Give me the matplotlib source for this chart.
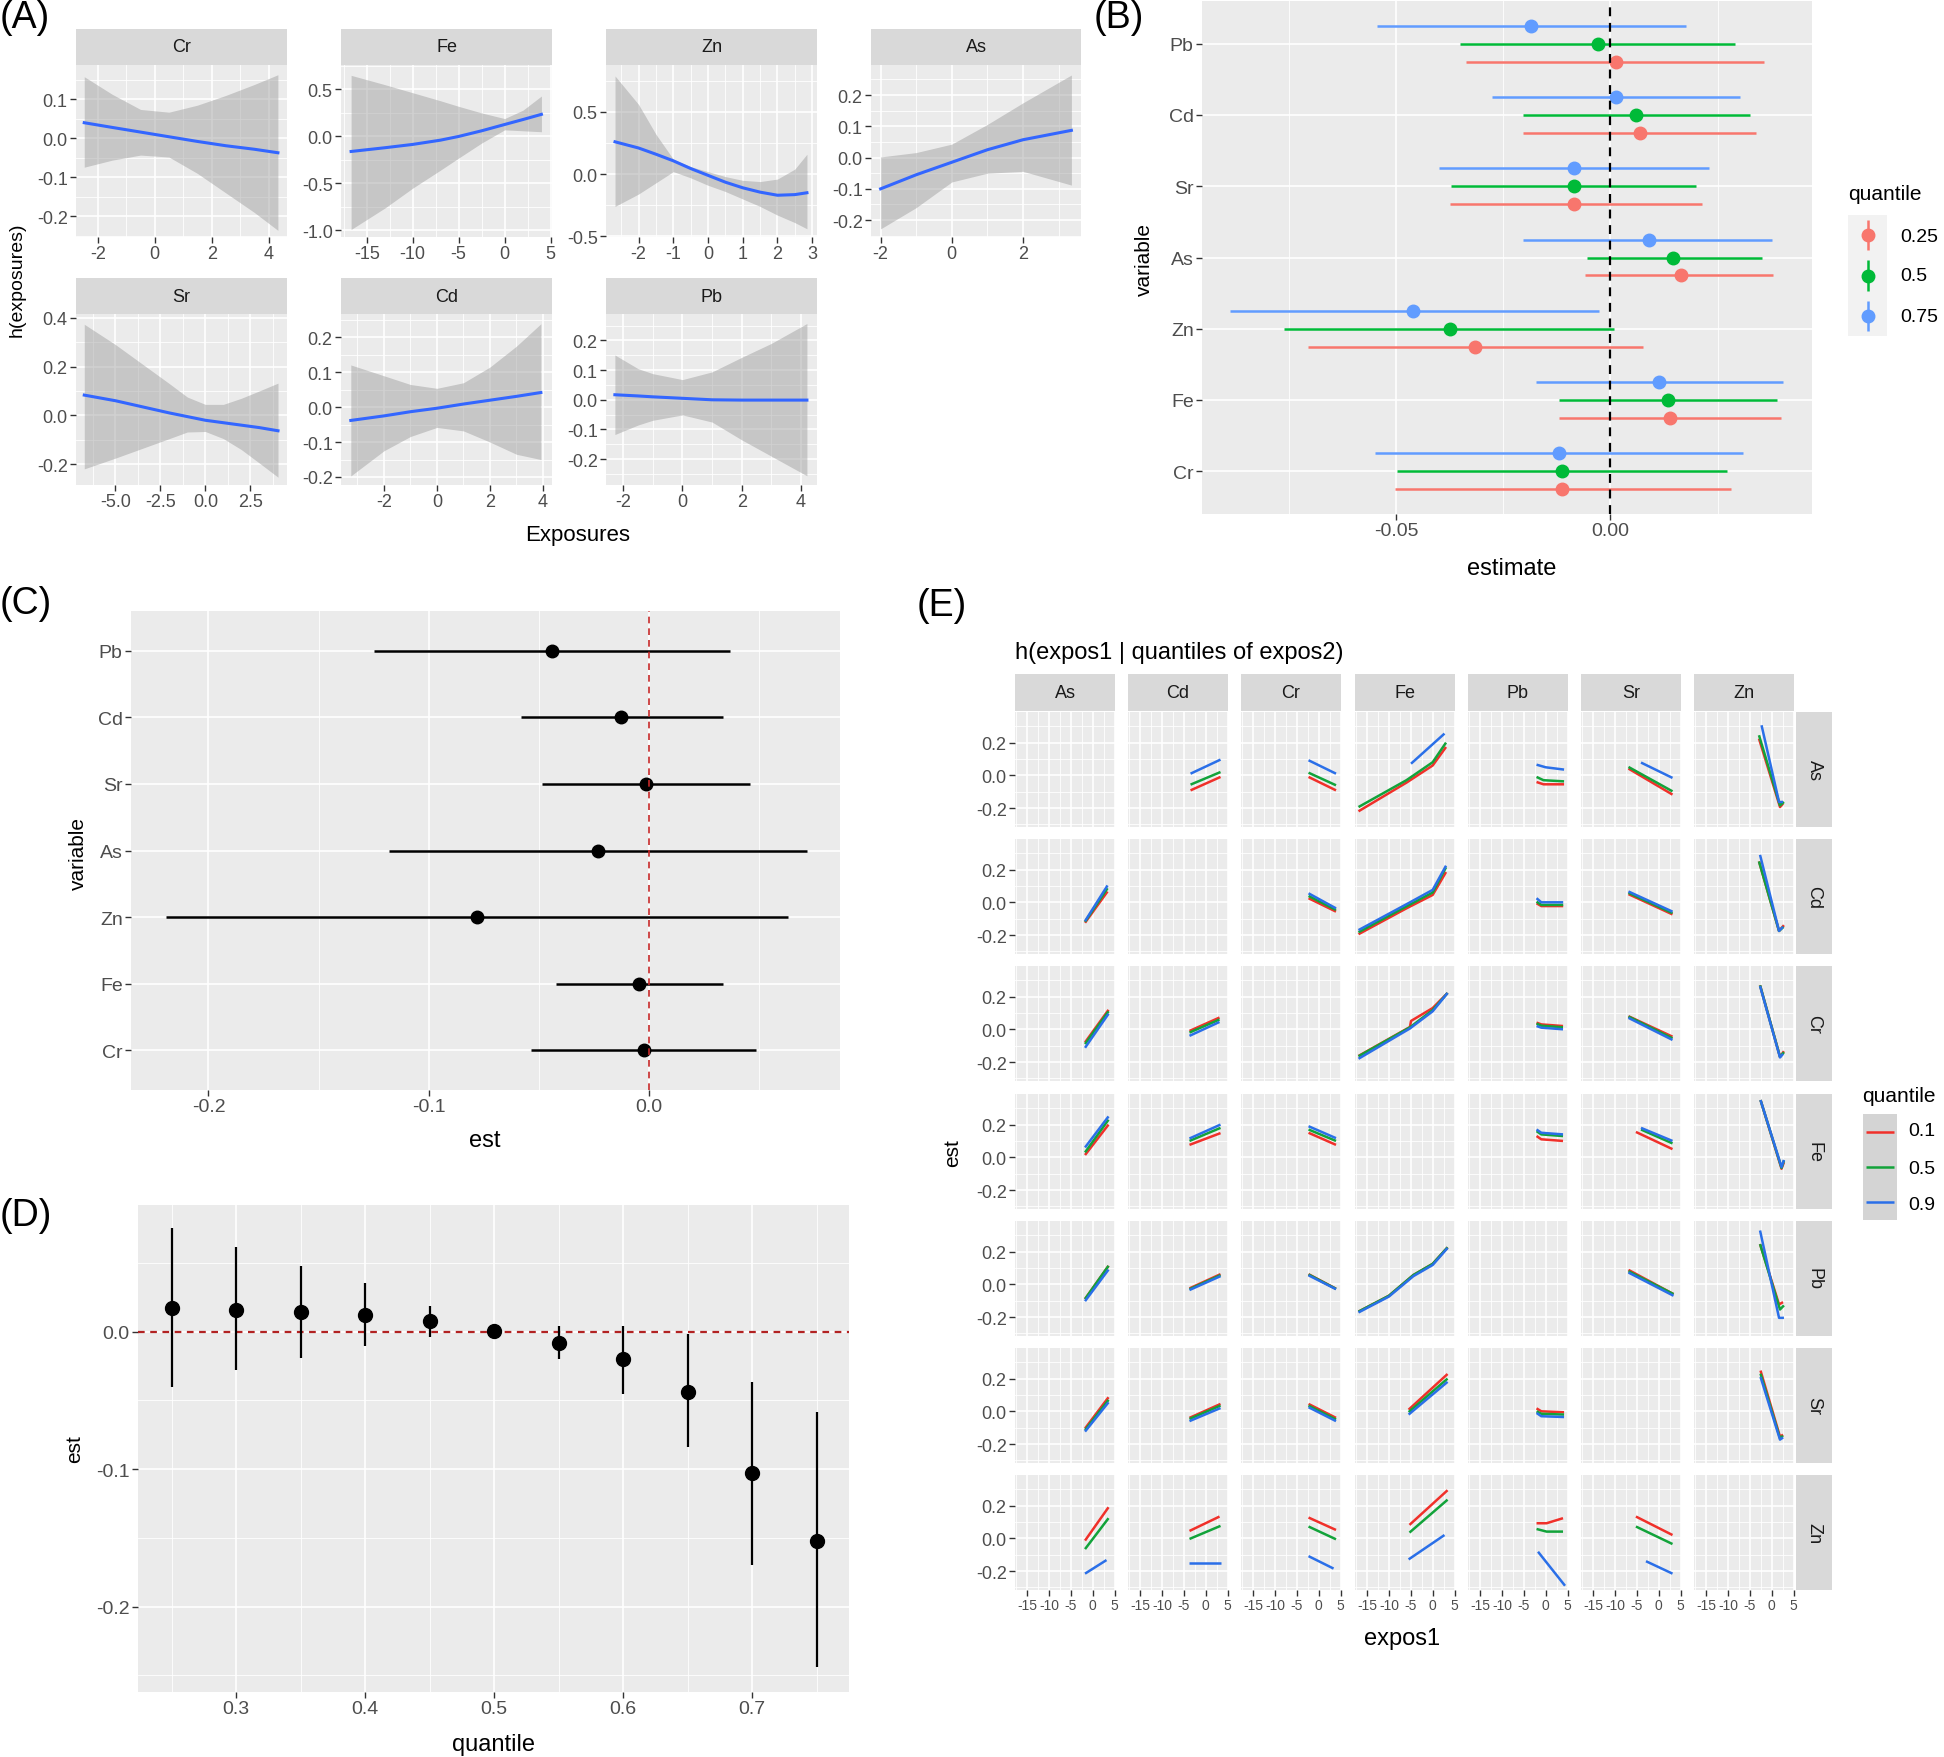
import matplotlib
matplotlib.use('Agg')
import matplotlib.pyplot as plt
import numpy as np

NARROW = ['Liberation Sans Narrow', 'Liberation Sans', 'DejaVu Sans']
REG = ['Liberation Sans', 'DejaVu Sans']
plt.rcParams['font.family'] = NARROW
plt.rcParams['axes.unicode_minus'] = False

# ---------------------------------------------------------------- data (A)
A_Cr = dict(x=[-2.48, -1.5, -0.5, 0.5, 1.5, 2.5, 3.5, 4.33],
            fit=[0.040, 0.028, 0.016, 0.004, -0.008, -0.019, -0.028, -0.037],
            lo=[-0.074, -0.056, -0.043, -0.048, -0.09, -0.14, -0.19, -0.236],
            hi=[0.158, 0.113, 0.074, 0.067, 0.085, 0.11, 0.138, 0.163])
A_Fe = dict(x=[-16.7, -13, -10, -7, -5, -2.5, 0, 2, 4.0],
            fit=[-0.16, -0.12, -0.085, -0.04, 0.0, 0.06, 0.127, 0.18, 0.235],
            lo=[-0.99, -0.76, -0.55, -0.36, -0.23, -0.07, 0.07, 0.06, 0.05],
            hi=[0.65, 0.55, 0.465, 0.38, 0.32, 0.25, 0.19, 0.28, 0.43])
A_Zn = dict(x=[-2.68, -2, -1.5, -1, -0.5, 0, 0.5, 1, 1.5, 2, 2.5, 2.85],
            fit=[0.26, 0.21, 0.16, 0.107, 0.045, -0.01, -0.065, -0.11, -0.145, -0.17, -0.165, -0.15],
            lo=[-0.26, -0.16, -0.07, 0.02, -0.03, -0.09, -0.14, -0.2, -0.26, -0.33, -0.39, -0.44],
            hi=[0.79, 0.56, 0.32, 0.12, 0.06, 0.02, -0.02, -0.05, -0.06, -0.04, 0.04, 0.16])
A_As = dict(x=[-2.0, -1, 0, 1, 2, 3.36],
            fit=[-0.1, -0.055, -0.015, 0.025, 0.057, 0.087],
            lo=[-0.228, -0.16, -0.078, -0.05, -0.044, -0.088],
            hi=[0.002, 0.016, 0.043, 0.106, 0.175, 0.264])
A_Sr = dict(x=[-6.73, -5, -3.5, -2, -1, 0, 1, 2, 3, 4.04],
            fit=[0.083, 0.06, 0.035, 0.01, -0.005, -0.02, -0.03, -0.04, -0.05, -0.063],
            lo=[-0.219, -0.175, -0.135, -0.095, -0.068, -0.066, -0.095, -0.14, -0.195, -0.253],
            hi=[0.373, 0.29, 0.21, 0.13, 0.075, 0.045, 0.045, 0.07, 0.1, 0.132])
A_Cd = dict(x=[-3.25, -2, -1, 0, 1, 2, 3, 3.92],
            fit=[-0.038, -0.025, -0.013, -0.003, 0.009, 0.02, 0.031, 0.042],
            lo=[-0.197, -0.125, -0.084, -0.058, -0.068, -0.1, -0.135, -0.15],
            hi=[0.121, 0.09, 0.065, 0.054, 0.07, 0.115, 0.175, 0.239])
A_Pb = dict(x=[-2.28, -1.5, -1, 0, 1, 2, 3, 4.2],
            fit=[0.017, 0.013, 0.01, 0.005, 0.0, -0.001, -0.001, -0.001],
            lo=[-0.117, -0.085, -0.069, -0.051, -0.075, -0.135, -0.19, -0.256],
            hi=[0.151, 0.105, 0.088, 0.068, 0.094, 0.143, 0.19, 0.257])

# ---------------------------------------------------------------- data (B, C)
variables = ['Pb', 'Cd', 'Sr', 'As', 'Zn', 'Fe', 'Cr']   # top -> bottom
b_quantiles = ['0.25', '0.5', '0.75']
b_est_25 = [0.0012, 0.007, -0.0084, 0.0164, -0.0316, 0.0138, -0.0112]
b_lo_25 = [-0.0336, -0.0204, -0.0375, -0.0059, -0.0706, -0.012, -0.0503]
b_hi_25 = [0.0357, 0.034, 0.0213, 0.038, 0.0077, 0.0398, 0.0282]
b_est_50 = [-0.003, 0.006, -0.0084, 0.0147, -0.0375, 0.0134, -0.0112]
b_lo_50 = [-0.035, -0.0204, -0.0371, -0.0054, -0.0762, -0.012, -0.0497]
b_hi_50 = [0.029, 0.0325, 0.02, 0.0353, 0.0009, 0.0389, 0.0271]
b_est_75 = [-0.0184, 0.0012, -0.0084, 0.0089, -0.0459, 0.0113, -0.012]
b_lo_75 = [-0.0545, -0.0277, -0.04, -0.0204, -0.0887, -0.0174, -0.0548]
b_hi_75 = [0.0177, 0.0303, 0.0231, 0.0376, -0.0027, 0.0402, 0.0308]

c_est = [-0.044, -0.0128, -0.0013, -0.0229, -0.0779, -0.0044, -0.0023]
c_lo = [-0.1247, -0.0578, -0.0484, -0.1182, -0.2193, -0.0422, -0.0536]
c_hi = [0.0367, 0.0336, 0.0458, 0.0719, 0.0635, 0.0336, 0.0487]

# ---------------------------------------------------------------- data (D)
d_quantile = [0.25, 0.30, 0.35, 0.40, 0.45, 0.50, 0.55, 0.60, 0.65, 0.70, 0.75]
d_est = [0.0174, 0.016, 0.0139, 0.0123, 0.0078, 0.0005, -0.0083, -0.0203, -0.0436, -0.1029, -0.1519]
d_lo = [-0.0401, -0.0281, -0.0195, -0.0107, -0.0043, -0.001, -0.0203, -0.0457, -0.0837, -0.17, -0.2441]
d_hi = [0.0754, 0.0612, 0.0479, 0.0353, 0.0184, 0.0019, 0.0037, 0.0037, -0.0021, -0.0364, -0.0583]

# ---------------------------------------------------------------- data (E)
# each entry: ((x, y) for q=0.1, (x, y) for q=0.5, (x, y) for q=0.9)
e_cols = ['As', 'Cd', 'Cr', 'Fe', 'Pb', 'Sr', 'Zn']
e_rows = ['As', 'Cd', 'Cr', 'Fe', 'Pb', 'Sr', 'Zn']
e_quant = ['0.1', '0.5', '0.9']
E_As = {
    'Cd': (([-3.46, 3.39], [-0.092, -0.01]), ([-3.46, 3.39], [-0.057, 0.02]), ([-3.46, 3.39], [0.010, 0.096])),
    'Cr': (([-2.32, 3.96], [-0.01, -0.092]), ([-2.32, 3.96], [0.016, -0.061]), ([-2.32, 3.96], [0.092, 0.01])),
    'Fe': (([-16.95, -6, 0, 3.05], [-0.22, -0.045, 0.06, 0.173]), ([-16.95, -6, 0, 3.05], [-0.194, -0.03, 0.08, 0.2]),
           ([-4.95, 2.7], [0.071, 0.255])),
    'Pb': (([-2.09, -0.5, 4.2], [-0.041, -0.055, -0.055]), ([-2.09, -0.5, 4.2], [-0.01, -0.03, -0.037]),
           ([-2.09, 0, 4.2], [0.065, 0.049, 0.035])),
    'Sr': (([-6.9, 3.16], [0.041, -0.118]), ([-6.9, 3.16], [0.051, -0.098]), ([-4.04, 3.16], [0.078, -0.016])),
    'Zn': (([-2.9, 1.9, 2.6], [0.224, -0.194, -0.173]), ([-2.9, 1.9, 2.8], [0.245, -0.184, -0.163]),
           ([-2.32, 1.68, 2.6], [0.306, -0.163, -0.163])),
}
E_Cd = {
    'As': (([-1.75, 3.39], [-0.125, 0.066]), ([-1.75, 3.39], [-0.119, 0.086]), ([-1.75, 3.39], [-0.115, 0.103])),
    'Cr': (([-2.32, 3.96], [0.025, -0.057]), ([-2.32, 3.96], [0.039, -0.047]), ([-2.32, 3.96], [0.055, -0.037])),
    'Fe': (([-16.95, -6, 0, 3.05], [-0.195, -0.037, 0.045, 0.185]), ([-16.95, -6, 0, 3.05], [-0.183, -0.025, 0.06, 0.214]),
           ([-16.95, -6, 0, 3.05], [-0.17, -0.012, 0.076, 0.224])),
    'Pb': (([-2.09, -1, 4.0], [-0.006, -0.023, -0.023]), ([-2.09, -1, 4.0], [0.004, -0.016, -0.016]),
           ([-2.09, -1, 4.0], [0.025, 0.0, 0.0])),
    'Sr': (([-6.9, 3.16], [0.05, -0.074]), ([-6.9, 3.16], [0.058, -0.066]), ([-6.9, 3.16], [0.066, -0.057])),
    'Zn': (([-2.9, 1.68, 2.8], [0.25, -0.175, -0.14]), ([-2.9, 1.68, 2.7], [0.25, -0.175, -0.15]),
           ([-2.66, 1.68, 2.6], [0.29, -0.175, -0.15])),
}
E_Cr = {
    'As': (([-1.75, 3.62], [-0.08, 0.119]), ([-1.75, 3.62], [-0.09, 0.11]), ([-1.75, 3.62], [-0.113, 0.095])),
    'Cd': (([-3.7, 3.16], [-0.01, 0.072]), ([-3.7, 3.16], [-0.02, 0.06]), ([-3.7, 3.16], [-0.04, 0.045])),
    'Fe': (([-16.95, -5.2, -4.95, 0, 3.4], [-0.163, 0.014, 0.051, 0.13, 0.222]),
           ([-16.95, -5.2, 0, 3.4], [-0.165, 0.012, 0.118, 0.222]),
           ([-16.95, -5.2, 0, 3.4], [-0.18, 0.005, 0.11, 0.222])),
    'Pb': (([-2.09, -1, 3.96], [0.041, 0.03, 0.02]), ([-2.09, -1, 3.96], [0.035, 0.022, 0.012]),
           ([-2.09, -1, 3.96], [0.02, 0.01, 0.0])),
    'Sr': (([-6.9, 3.16], [0.08, -0.045]), ([-6.9, 3.16], [0.078, -0.055]), ([-6.9, 3.16], [0.07, -0.065])),
    'Zn': (([-2.66, 1.9, 2.8], [0.269, -0.168, -0.134]), ([-2.66, 1.9, 2.8], [0.269, -0.168, -0.14]),
           ([-2.66, 1.9, 2.6], [0.265, -0.172, -0.15])),
}
E_Fe = {
    'As': (([-1.75, 3.62], [0.014, 0.2]), ([-1.75, 3.62], [0.03, 0.23]), ([-1.75, 3.62], [0.06, 0.25])),
    'Cd': (([-3.7, 3.39], [0.076, 0.148]), ([-3.7, 3.39], [0.1, 0.18]), ([-3.7, 3.39], [0.115, 0.2])),
    'Cr': (([-2.32, 3.96], [0.15, 0.076]), ([-2.32, 3.96], [0.17, 0.1]), ([-2.32, 3.96], [0.19, 0.117])),
    'Pb': (([-2.09, -1, 3.96], [0.13, 0.11, 0.1]), ([-2.09, -1, 3.96], [0.16, 0.14, 0.13]),
           ([-2.09, -1, 3.96], [0.17, 0.15, 0.14])),
    'Sr': (([-5.2, 3.16], [0.155, 0.05]), ([-4.04, 3.16], [0.17, 0.085]), ([-4.04, 3.16], [0.18, 0.1])),
    'Zn': (([-2.55, 2.25, 2.8], [0.35, -0.07, -0.03]), ([-2.55, 2.25, 2.8], [0.35, -0.065, -0.02]),
           ([-2.55, 2.25, 2.8], [0.35, -0.06, -0.016])),
}
E_Pb = {
    'As': (([-1.75, 3.62], [-0.09, 0.113]), ([-1.75, 3.62], [-0.09, 0.113]), ([-1.75, 3.62], [-0.103, 0.09])),
    'Cd': (([-3.7, 3.39], [-0.025, 0.062]), ([-3.7, 3.39], [-0.03, 0.056]), ([-3.7, 3.39], [-0.035, 0.05])),
    'Cr': (([-2.32, 3.96], [0.062, -0.027]), ([-2.32, 3.96], [0.06, -0.028]), ([-2.32, 3.96], [0.055, -0.03])),
    'Fe': (([-16.95, -10, -4.4, 0, 3.4], [-0.167, -0.07, 0.057, 0.125, 0.226]),
           ([-16.95, -10, -4.4, 0, 3.4], [-0.167, -0.07, 0.057, 0.125, 0.226]),
           ([-16.95, -10, -4.4, 0, 3.4], [-0.172, -0.075, 0.05, 0.118, 0.222])),
    'Sr': (([-6.9, 3.39], [0.088, -0.06]), ([-6.9, 3.39], [0.08, -0.06]), ([-6.9, 3.39], [0.072, -0.07])),
    'Zn': (([-2.66, 1.68, 2.6], [0.246, -0.123, -0.109]), ([-2.66, 1.9, 2.8], [0.246, -0.154, -0.129]),
           ([-2.66, 1.68, 2.8], [0.329, -0.205, -0.205])),
}
E_Sr = {
    'As': (([-1.75, 3.62], [-0.105, 0.086]), ([-1.75, 3.62], [-0.115, 0.07]), ([-1.75, 3.62], [-0.124, 0.055])),
    'Cd': (([-3.7, 3.39], [-0.04, 0.045]), ([-3.7, 3.39], [-0.047, 0.035]), ([-3.7, 3.39], [-0.06, 0.02])),
    'Cr': (([-2.32, 3.96], [0.045, -0.04]), ([-2.32, 3.96], [0.035, -0.05]), ([-2.32, 3.96], [0.025, -0.06])),
    'Fe': (([-5.5, 3.4], [0.01, 0.228]), ([-5.5, 3.4], [-0.005, 0.2]), ([-5.5, 3.4], [-0.02, 0.18])),
    'Pb': (([-2.09, -1, 4.2], [0.018, 0.0, -0.006]), ([-2.09, -1, 4.2], [0.0, -0.015, -0.02]),
           ([-2.09, -1, 4.2], [-0.01, -0.03, -0.035])),
    'Zn': (([-2.55, 1.9, 2.6], [0.249, -0.155, -0.143]), ([-2.55, 1.9, 2.6], [0.23, -0.165, -0.15]),
           ([-2.55, 1.9, 2.6], [0.21, -0.173, -0.16])),
}
E_Zn = {
    'As': (([-1.75, 3.62], [-0.014, 0.19]), ([-1.75, 3.62], [-0.066, 0.123]), ([-1.75, 3.16], [-0.216, -0.133])),
    'Cd': (([-3.7, 3.16], [0.045, 0.133]), ([-3.7, 3.39], [-0.004, 0.076]), ([-3.7, 3.39], [-0.154, -0.154])),
    'Cr': (([-2.32, 3.96], [0.127, 0.051]), ([-2.32, 3.96], [0.072, -0.006]), ([-2.32, 3.4], [-0.109, -0.185])),
    'Fe': (([-5.3, 3.4], [0.082, 0.294]), ([-5.3, 3.4], [0.035, 0.236]), ([-5.5, 2.7], [-0.129, 0.02])),
    'Pb': (([-2.09, 0.2, 3.96], [0.092, 0.092, 0.123]), ([-2.09, 0.2, 3.96], [0.057, 0.041, 0.041]),
           ([-1.75, 4.42], [-0.082, -0.29])),
    'Sr': (([-5.2, 3.16], [0.133, 0.02]), ([-5.2, 3.16], [0.072, -0.035]), ([-2.9, 3.16], [-0.14, -0.216])),
}
E_data = {'As': E_As, 'Cd': E_Cd, 'Cr': E_Cr, 'Fe': E_Fe, 'Pb': E_Pb, 'Sr': E_Sr, 'Zn': E_Zn}

# ---------------------------------------------------------------- helpers
W, H = 1944, 1758
fig = plt.figure(figsize=(W / 100, H / 100), dpi=100)
BG = '#EBEBEB'
STRIP = '#D9D9D9'


def add_ax(x0, y0, x1, y1):
    return fig.add_axes([x0 / W, 1 - y1 / H, (x1 - x0) / W, (y1 - y0) / H])


def ftext(x, y, s, size, family=None, rot=0, ha='center', va='center', color='black'):
    fig.text(x / W, 1 - y / H, s, fontsize=size, family=family or NARROW,
             rotation=rot, ha=ha, va=va, color=color)


def minor_between(maj):
    m = np.asarray(maj, float)
    step = m[1] - m[0]
    return np.arange(m[0] - step / 2, m[-1] + step, step)


def gg(ax, xlim, ylim, xmaj, ymaj, xlab=None, ylab=None, xminor=True, yminor=True, size=13,
       show_x=True, show_y=True, xsize=None):
    ax.set_facecolor(BG)
    for s in ax.spines.values():
        s.set_visible(False)
    ax.set_xticks(xmaj)
    ax.set_yticks(ymaj)
    if xminor:
        ax.set_xticks(minor_between(xmaj), minor=True)
    if yminor:
        ax.set_yticks(minor_between(ymaj), minor=True)
    ax.set_xlim(xlim)
    ax.set_ylim(ylim)
    ax.grid(True, which='major', color='white', lw=1.2)
    ax.grid(True, which='minor', color='white', lw=0.6)
    ax.tick_params(which='minor', length=0)
    ax.tick_params(which='major', length=4, width=1.0, color='#333333',
                   labelcolor='#4D4D4D', labelsize=size, pad=2)
    if xsize is not None:
        ax.tick_params(axis='x', labelsize=xsize)
    if show_x:
        ax.set_xticklabels(xlab if xlab is not None else [str(v) for v in xmaj])
    else:
        ax.tick_params(axis='x', which='major', length=0, labelbottom=False)
    if show_y:
        ax.set_yticklabels(ylab if ylab is not None else [str(v) for v in ymaj])
    else:
        ax.tick_params(axis='y', which='major', length=0, labelleft=False)
    ax.set_axisbelow(True)


def strip(x0, y0, x1, y1, label, size=13, rot=0):
    s = add_ax(x0, y0, x1, y1)
    s.set_facecolor(STRIP)
    for sp in s.spines.values():
        sp.set_visible(False)
    s.set_xticks([])
    s.set_yticks([])
    s.text(0.5, 0.5, label, transform=s.transAxes, ha='center', va='center',
           fontsize=size, rotation=rot, color='#1A1A1A')


# ---------------------------------------------------------------- panel A
a_specs = [
    ('Cr', A_Cr, (-2.77, 4.65), (-0.253, 0.188), [-2, 0, 2, 4], ['-2', '0', '2', '4'],
     [-0.2, -0.1, 0.0, 0.1], ['-0.2', '-0.1', '0.0', '0.1'], 0, 0),
    ('Fe', A_Fe, (-17.8, 5.15), (-1.07, 0.76), [-15, -10, -5, 0, 5], ['-15', '-10', '-5', '0', '5'],
     [-1.0, -0.5, 0.0, 0.5], ['-1.0', '-0.5', '0.0', '0.5'], 0, 1),
    ('Zn', A_Zn, (-2.94, 3.14), (-0.506, 0.878), [-2, -1, 0, 1, 2, 3], ['-2', '-1', '0', '1', '2', '3'],
     [-0.5, 0.0, 0.5], ['-0.5', '0.0', '0.5'], 0, 2),
    ('As', A_As, (-2.27, 3.63), (-0.254, 0.296), [-2, 0, 2], ['-2', '0', '2'],
     [-0.2, -0.1, 0.0, 0.1, 0.2], ['-0.2', '-0.1', '0.0', '0.1', '0.2'], 0, 3),
    ('Sr', A_Sr, (-7.19, 4.54), (-0.285, 0.415), [-5.0, -2.5, 0.0, 2.5], ['-5.0', '-2.5', '0.0', '2.5'],
     [-0.2, 0.0, 0.2, 0.4], ['-0.2', '0.0', '0.2', '0.4'], 1, 0),
    ('Cd', A_Cd, (-3.62, 4.34), (-0.223, 0.267), [-2, 0, 2, 4], ['-2', '0', '2', '4'],
     [-0.2, -0.1, 0.0, 0.1, 0.2], ['-0.2', '-0.1', '0.0', '0.1', '0.2'], 1, 1),
    ('Pb', A_Pb, (-2.58, 4.54), (-0.287, 0.289), [-2, 0, 2, 4], ['-2', '0', '2', '4'],
     [-0.2, -0.1, 0.0, 0.1, 0.2], ['-0.2', '-0.1', '0.0', '0.1', '0.2'], 1, 2),
]
a_colx = [(76, 287), (341, 552), (606, 817), (871, 1081)]
a_rowy = [((30, 66), (66, 238)), ((279, 315), (315, 486))]
for name, d, xl, yl, xt, xtl, yt, ytl, r, c in a_specs:
    (sy0, sy1), (py0, py1) = a_rowy[r]
    x0, x1 = a_colx[c]
    ax = add_ax(x0, py0, x1, py1)
    gg(ax, xl, yl, xt, yt, xtl, ytl, size=13)
    ax.fill_between(d['x'], d['lo'], d['hi'], color='#999999', alpha=0.45, lw=0, zorder=2)
    ax.plot(d['x'], d['fit'], color='#3366FF', lw=2.2, zorder=3)
    strip(x0, sy0, x1, sy1, name, size=13)

ftext(0, 0, '(A)', 27, ha='left', va='top')
ftext(17, 280, 'h(exposures)', 14, family=REG, rot=90)
ftext(578, 535, 'Exposures', 16)

# ---------------------------------------------------------------- panel B
axB = add_ax(1202, 2, 1812, 515)
ycat = np.arange(len(variables), 0, -1)  # Pb=7 ... Cr=1
gg(axB, (-0.0952, 0.047), (0.4, 7.6), [-0.05, 0.0], list(ycat), ['-0.05', '0.00'], variables,
   xminor=True, yminor=False, size=14)
b_colors = ['#F8766D', '#00BA38', '#619CFF']
b_sets = [(b_est_25, b_lo_25, b_hi_25), (b_est_50, b_lo_50, b_hi_50), (b_est_75, b_lo_75, b_hi_75)]
offs = [-0.25, 0.0, 0.25]
for (est, lo, hi), col, off in zip(b_sets, b_colors, offs):
    yy = ycat + off
    axB.hlines(yy, lo, hi, color=col, lw=1.8, zorder=3)
    axB.plot(est, yy, 'o', color=col, ms=9, zorder=4)
axB.axvline(0, color='black', lw=1.6, ls=(0, (4, 3)), zorder=5)
ftext(1094, 0, '(B)', 27, ha='left', va='top')
ftext(1144, 260, 'variable', 15, family=REG, rot=90)
ftext(1512, 569, 'estimate', 17)

legB = add_ax(1848, 216, 1887, 337)
legB.set_facecolor('#F2F2F2')
for sp in legB.spines.values():
    sp.set_visible(False)
legB.set_xticks([])
legB.set_yticks([])
legB.set_xlim(0, 1)
legB.set_ylim(0, 3)
for i, col in enumerate(b_colors):
    yc = 2.5 - i
    legB.vlines(0.5, yc - 0.38, yc + 0.38, color=col, lw=1.8)
    legB.plot([0.5], [yc], 'o', color=col, ms=9)
ftext(1848, 195, 'quantile', 15, ha='left')
for lab, yy in zip(b_quantiles, [237, 276.5, 317]):
    ftext(1900, yy, lab, 14, ha='left')

# ---------------------------------------------------------------- panel C
axC = add_ax(131, 612, 840, 1091)
gg(axC, (-0.2352, 0.0869), (0.4, 7.6), [-0.2, -0.1, 0.0], list(ycat), ['-0.2', '-0.1', '0.0'], variables,
   xminor=True, yminor=False, size=14)
axC.hlines(ycat, c_lo, c_hi, color='black', lw=1.8, zorder=3)
axC.plot(c_est, ycat, 'o', color='black', ms=9, zorder=4)
axC.axvline(0, color='#C62828', lw=1.2, ls=(0, (4, 3)), zorder=5)
ftext(0, 586, '(C)', 27, ha='left', va='top')
ftext(78, 853, 'variable', 15, family=REG, rot=90)
ftext(485, 1141, 'est', 17)

# ---------------------------------------------------------------- panel D
axD = add_ax(138, 1206, 849, 1693)
gg(axD, (0.224, 0.775), (-0.262, 0.092), [0.3, 0.4, 0.5, 0.6, 0.7], [-0.2, -0.1, 0.0],
   ['0.3', '0.4', '0.5', '0.6', '0.7'], ['-0.2', '-0.1', '0.0'], size=14)
axD.vlines(d_quantile, d_lo, d_hi, color='black', lw=1.6, zorder=3)
axD.plot(d_quantile, d_est, 'o', color='black', ms=10, zorder=4)
axD.axhline(0, color='#B22222', lw=1.6, ls=(0, (3, 2.5)), zorder=2)
ftext(0, 1198, '(D)', 27, ha='left', va='top')
ftext(75, 1449, 'est', 15, family=REG, rot=90)
ftext(493, 1745, 'quantile', 17)

# ---------------------------------------------------------------- panel E
e_colors = ['#F0302A', '#12A33A', '#2A6FE8']
e_x0 = [1015, 1128, 1241, 1355, 1468, 1581, 1694]
e_y0 = [713, 840, 967, 1095, 1222, 1349, 1476]
EW, EH = 100, 115
for j, cname in enumerate(e_cols):
    strip(e_x0[j], 675, e_x0[j] + EW, 712, cname, size=13)
for i, rname in enumerate(e_rows):
    strip(1796, e_y0[i], 1832, e_y0[i] + EH, rname, size=13, rot=-90)
    for j, cname in enumerate(e_cols):
        ax = add_ax(e_x0[j], e_y0[i], e_x0[j] + EW, e_y0[i] + EH)
        gg(ax, (-17.75, 5.1), (-0.316, 0.387), [-15, -10, -5, 0, 5], [-0.2, 0.0, 0.2],
           ['-15', '-10', '-5', '0', '5'], ['-0.2', '0.0', '0.2'], size=13, xsize=10,
           show_x=(i == len(e_rows) - 1), show_y=(j == 0))
        if i == len(e_rows) - 1:
            ax.tick_params(axis='x', pad=2)
        lines = E_data[rname].get(cname)
        if lines:
            for (xs, ys), col in zip(lines, e_colors):
                ax.plot(xs, ys, color=col, lw=1.8, solid_capstyle='butt')

ftext(917, 588, '(E)', 27, ha='left', va='top')
ftext(1015, 653, 'h(expos1 | quantiles of expos2)', 17, ha='left')
ftext(953, 1153, 'est', 15, family=REG, rot=90)
ftext(1402, 1639, 'expos1', 17)

legE = add_ax(1863, 1115, 1897, 1221)
legE.set_facecolor('#D4D4D4')
for sp in legE.spines.values():
    sp.set_visible(False)
legE.set_xticks([])
legE.set_yticks([])
legE.set_xlim(0, 1)
legE.set_ylim(0, 3)
for i, col in enumerate(e_colors):
    yc = 2.5 - i
    legE.hlines(yc, 0.1, 0.9, color=col, lw=1.8)
ftext(1862, 1097, 'quantile', 15, ha='left')
for lab, yy in zip(e_quant, [1132, 1169, 1205]):
    ftext(1908, yy, lab, 14, ha='left')

fig.savefig('out.png', dpi=100, facecolor='white')
